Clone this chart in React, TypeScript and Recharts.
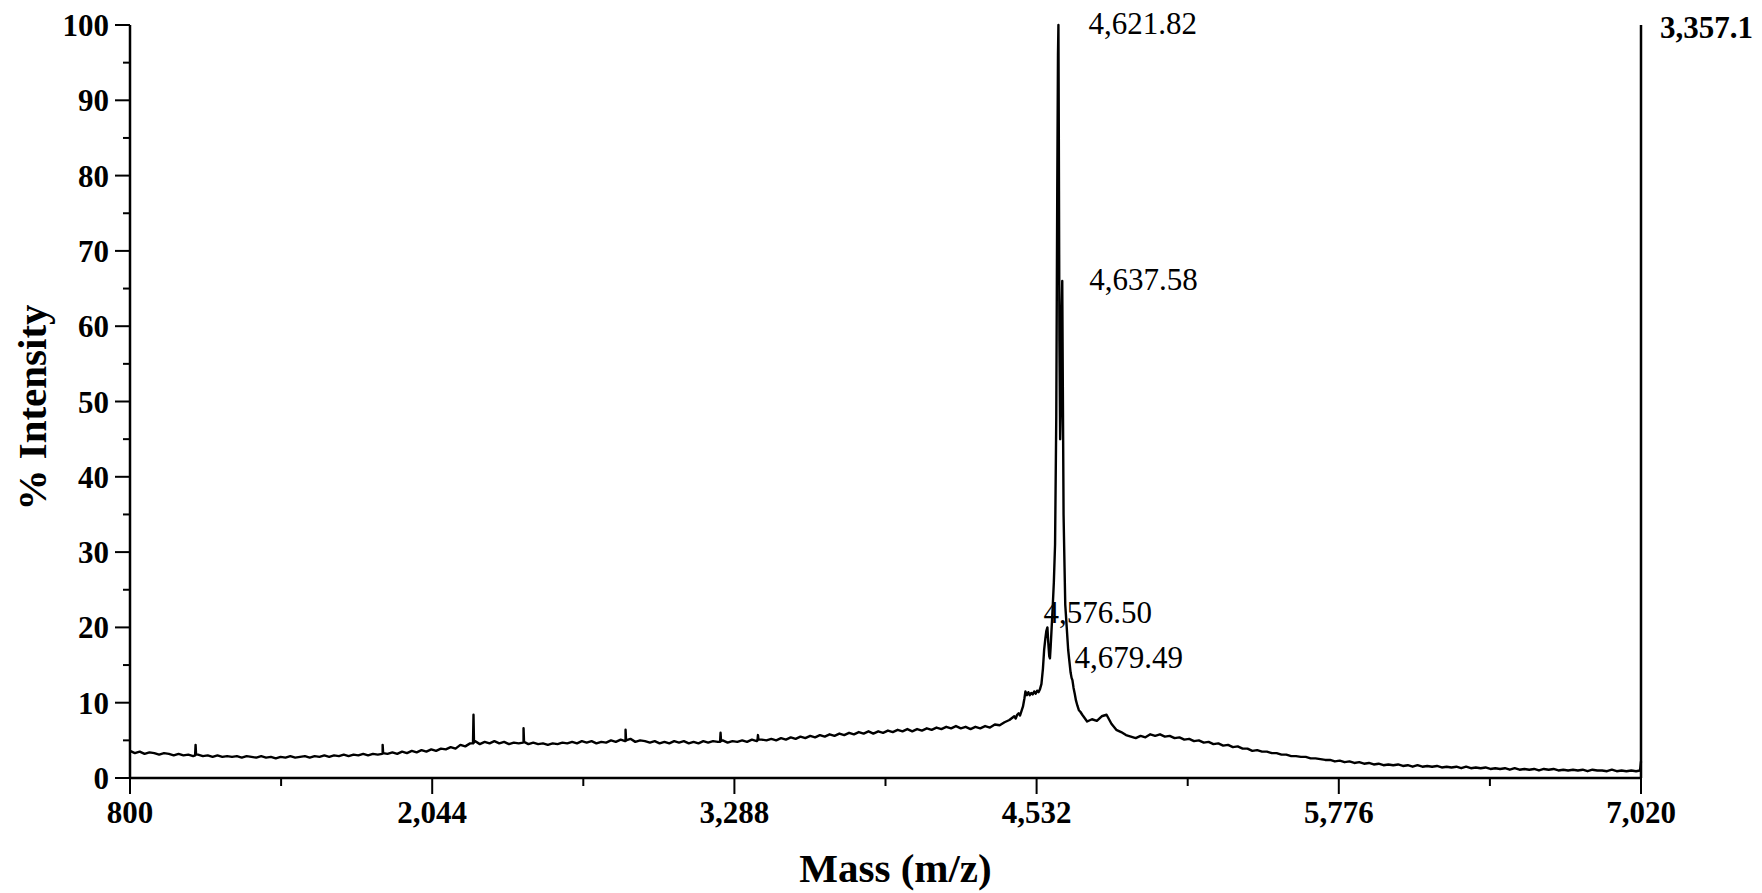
import { LineChart, Line, XAxis, YAxis, ReferenceLine, ReferenceDot } from 'recharts';

// spectrum sampled every 20 Da away from the main peak
const sampleStep = 20;
const lowMassStart = 800;
const lowMassIntensity = [
  3.6, 3.3, 3.5, 3.2, 3.4, 3.3, 3.1, 3.3, 3.2, 3.0,
  3.2, 3.0, 3.1, 2.9, 3.1, 2.9, 3.0, 2.8, 3.0, 2.8,
  2.9, 2.8, 2.9, 2.7, 2.9, 2.8, 2.7, 2.9, 2.7, 2.8,
  2.6, 2.8, 2.7, 2.9, 2.7, 2.8, 2.9, 2.7, 2.9, 2.8,
  3.0, 2.8, 3.0, 2.9, 3.1, 2.9, 3.1, 3.0, 3.2, 3.0,
  3.2, 3.1, 3.3, 3.2, 3.4, 3.2, 3.5, 3.3, 3.6, 3.4,
  3.7, 3.5, 3.8, 3.6, 3.9, 3.8, 4.1, 3.9, 4.4, 4.2,
  4.6, 4.9, 4.5, 4.8, 4.6, 4.9, 4.6, 4.8, 4.5, 4.7,
  4.6, 4.8, 4.5, 4.7, 4.5, 4.6, 4.4, 4.6, 4.5, 4.7,
  4.6, 4.8, 4.6, 4.9, 4.7, 4.9, 4.6, 4.8, 4.7, 5.0,
  4.8, 5.1, 4.9, 5.2, 4.8, 5.0, 4.9, 4.7, 4.9, 4.6,
  4.8, 4.6, 4.9, 4.7, 4.9, 4.6, 4.8, 4.6, 4.9, 4.7,
  4.9, 4.8, 5.0, 4.7, 4.9, 4.8, 5.0, 4.8, 5.1, 4.9,
  5.1, 5.0, 5.2, 5.0, 5.3, 5.1, 5.4, 5.2, 5.5, 5.3,
  5.6, 5.4, 5.7, 5.5, 5.8, 5.6, 5.9, 5.7, 6.0, 5.8,
  6.1, 5.9, 6.2, 5.9, 6.2, 6.0, 6.3, 6.1, 6.4, 6.2,
  6.5, 6.2, 6.5, 6.3, 6.6, 6.4, 6.7, 6.5, 6.8, 6.6,
  6.9, 6.6, 6.8, 6.5, 6.8, 6.6, 6.9, 6.7, 7.1, 7.0,
  7.4, 7.7, 8.2,
];

// denser points across the main peak cluster
const peakMass = [
  4446, 4452, 4458, 4464, 4470, 4476, 4482, 4486, 4492, 4498,
  4504, 4510, 4516, 4522, 4528, 4534, 4540, 4546, 4552, 4558,
  4563, 4568, 4572, 4576.5, 4580, 4584, 4587, 4590, 4594, 4598,
  4603, 4608, 4613, 4617, 4620, 4621.82, 4623.5, 4626, 4629, 4632,
  4635, 4637.58, 4640, 4643, 4647, 4650, 4656, 4662, 4667, 4672,
  4676, 4679.49, 4684, 4689, 4694, 4700, 4706, 4712,
];
const peakIntensity = [
  7.9, 8.4, 8.6, 8.3, 8.9, 9.5, 10.6, 11.5, 11.0, 11.4,
  11.0, 11.3, 11.1, 11.5, 11.2, 11.6, 11.4, 11.8, 12.5, 14.5,
  17.0, 18.5, 19.5, 20.0, 18.0, 16.2, 15.9, 17.5, 20.0, 22.5,
  26, 31, 48, 78, 96, 100, 85, 58, 45, 50,
  62, 66, 52, 35, 28, 23, 20, 17, 15.5, 14.0,
  13.3, 13.0, 12.0, 11.2, 10.3, 9.6, 9.0, 8.8,
];

const highMassStart = 4720;
const highMassIntensity = [
  8.4, 7.5, 7.8, 7.6, 8.2, 8.4, 7.2, 6.4, 6.1, 5.7,
  5.5, 5.3, 5.6, 5.4, 5.8, 5.6, 5.8, 5.5, 5.6, 5.3,
  5.4, 5.1, 5.2, 4.9, 5.0, 4.7, 4.8, 4.5, 4.6, 4.3,
  4.4, 4.1, 4.2, 3.9, 3.9, 3.6, 3.7, 3.5, 3.5, 3.3,
  3.3, 3.1, 3.1, 2.9, 2.9, 2.8, 2.8, 2.6, 2.6, 2.5,
  2.4, 2.4, 2.2, 2.3, 2.1, 2.2, 2.0, 2.1, 1.9, 2.0,
  1.8, 1.9, 1.7, 1.8, 1.7, 1.8, 1.6, 1.7, 1.5, 1.7,
  1.5, 1.6, 1.5, 1.6, 1.4, 1.5, 1.4, 1.5, 1.3, 1.5,
  1.3, 1.4, 1.3, 1.4, 1.2, 1.3, 1.2, 1.3, 1.1, 1.3,
  1.1, 1.2, 1.1, 1.2, 1.0, 1.2, 1.1, 1.2, 1.0, 1.1,
  1.0, 1.1, 1.0, 1.1, 0.9, 1.1, 1.0, 1.0, 0.9, 1.1,
  0.9, 1.0, 0.9, 1.0, 0.9, 2.2,
];

// narrow spikes on the baseline
const spikeMass = [
  1068, 1070, 1072, 1838, 1840, 1842, 2212, 2214, 2216, 2418, 2420, 2422,
  2838, 2840, 2842, 3229, 3231, 3233, 3383, 3385, 3387, 7016,
];
const spikeIntensity = [
  3.0, 4.4, 3.1, 3.2, 4.4, 3.3, 4.6, 8.4, 4.7, 4.7, 6.6, 4.8,
  4.9, 6.4, 5.0, 4.8, 6.0, 4.9, 5.0, 5.7, 5.1, 1.0,
];

const massTicks = [800, 1422, 2044, 2666, 3288, 3910, 4532, 5154, 5776, 6398, 7020];
const massTickLabels = ['800', '', '2,044', '', '3,288', '', '4,532', '', '5,776', '', '7,020'];
const intensityTicks = [0, 5, 10, 15, 20, 25, 30, 35, 40, 45, 50, 55, 60, 65, 70, 75, 80, 85, 90, 95, 100];

const peakLabelMass = [4621.82, 4637.58, 4576.5, 4679.49];
const peakLabelIntensity = [100, 66, 20, 13];
const peakLabelText = ['4,621.82', '4,637.58', '4,576.50', '4,679.49'];
const peakLabelOffset = [[30, 9], [27, 9], [-4, -4], [2, -12]];
const maxCountsLabel = '3,357.1';

const spectrum = [
  ...lowMassIntensity.map((v, i) => ({ mass: lowMassStart + i * sampleStep, intensity: v })),
  ...peakMass.map((m, i) => ({ mass: m, intensity: peakIntensity[i] })),
  ...highMassIntensity.map((v, i) => ({ mass: highMassStart + i * sampleStep, intensity: v })),
  ...spikeMass.map((m, i) => ({ mass: m, intensity: spikeIntensity[i] })),
].sort((a, b) => a.mass - b.mass);

const serif = "'Liberation Serif', 'Times New Roman', serif";

const MassTick = ({ x, y, payload }: any) => {
  const label = massTickLabels[massTicks.indexOf(payload.value)];
  return (
    <g>
      <line x1={x} x2={x} y1={y} y2={y + (label ? 16 : 8)} stroke="#000" strokeWidth={2} />
      {label && (
        <text x={x} y={y + 45} textAnchor="middle" fontFamily={serif} fontWeight="bold" fontSize={31} fill="#000">
          {label}
        </text>
      )}
    </g>
  );
};

const IntensityTick = ({ x, y, payload }: any) => {
  const major = payload.value % 10 === 0;
  return (
    <g>
      <line x1={x - (major ? 15 : 7)} x2={x} y1={y} y2={y} stroke="#000" strokeWidth={2} />
      {major && (
        <text x={x - 21} y={y + 11} textAnchor="end" fontFamily={serif} fontWeight="bold" fontSize={31} fill="#000">
          {payload.value}
        </text>
      )}
    </g>
  );
};

export default function App() {
  return (
    <div style={{ position: 'absolute', left: 0, top: 0, background: '#fff' }}>
      <LineChart width={1762} height={893} data={spectrum} margin={{ top: 25, right: 121, bottom: 55, left: 0 }}>
        <XAxis
          dataKey="mass"
          type="number"
          domain={[800, 7020]}
          ticks={massTicks}
          interval={0}
          height={60}
          tickSize={0}
          tickMargin={0}
          tick={<MassTick />}
          axisLine={{ stroke: '#000', strokeWidth: 2.5 }}
          label={{
            content: ({ viewBox }: any) => (
              <text x={viewBox.x + viewBox.width / 2 + 10} y={viewBox.y + 104} textAnchor="middle" fontFamily={serif} fontWeight="bold" fontSize={41} fill="#000">
                Mass (m/z)
              </text>
            ),
          }}
        />
        <YAxis
          type="number"
          domain={[0, 100]}
          ticks={intensityTicks}
          interval={0}
          width={130}
          tickSize={0}
          tickMargin={0}
          tick={<IntensityTick />}
          axisLine={{ stroke: '#000', strokeWidth: 2.5 }}
          label={{
            content: ({ viewBox }: any) => {
              const cy = viewBox.y + viewBox.height / 2 + 6;
              return (
                <text x={46} y={cy} transform={`rotate(-90, 46, ${cy})`} textAnchor="middle" fontFamily={serif} fontWeight="bold" fontSize={41} fill="#000">
                  % Intensity
                </text>
              );
            },
          }}
        />
        <ReferenceLine
          x={7020}
          stroke="#000"
          strokeWidth={2.5}
          label={{
            content: ({ viewBox }: any) => (
              <text x={viewBox.x + 19} y={viewBox.y + 13} fontFamily={serif} fontWeight="bold" fontSize={31} fill="#000">
                {maxCountsLabel}
              </text>
            ),
          }}
        />
        <Line
          type="linear"
          dataKey="intensity"
          stroke="#000"
          strokeWidth={2.4}
          strokeLinejoin="round"
          dot={false}
          isAnimationActive={false}
        />
        {peakLabelMass.map((m, i) => (
          <ReferenceDot
            key={peakLabelText[i]}
            x={m}
            y={peakLabelIntensity[i]}
            r={0}
            fill="none"
            stroke="none"
            label={{
              content: ({ viewBox }: any) => (
                <text x={viewBox.x + peakLabelOffset[i][0]} y={viewBox.y + peakLabelOffset[i][1]} fontFamily={serif} fontSize={31} fill="#000">
                  {peakLabelText[i]}
                </text>
              ),
            }}
          />
        ))}
      </LineChart>
    </div>
  );
}
